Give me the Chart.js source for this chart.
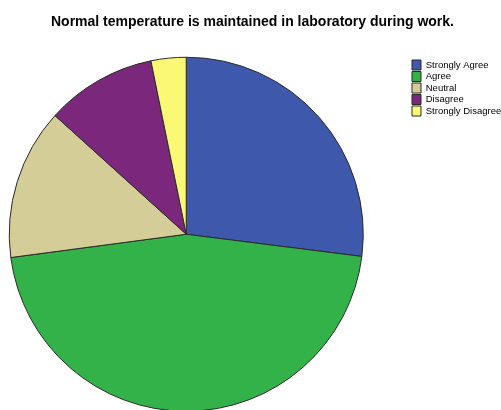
<!DOCTYPE html>
<html>
<head>
<meta charset="utf-8">
<script src="https://cdn.jsdelivr.net/npm/chart.js@4"></script>
<style>
  html, body { margin: 0; padding: 0; background: #fff; overflow: hidden; }
  #wrap { position: relative; width: 501px; height: 410px; overflow: hidden; }
  #title {
    position: absolute; left: 2px; top: 13px; width: 501px;
    text-align: center; font: bold 14px "Liberation Sans", Arial, sans-serif;
    line-height: 16px; color: #000; z-index: 1;
  }
  /* canvas starts a little left of the page so the pie sits where the original does */
  canvas { position: absolute; left: -38px; top: 0; }
</style>
</head>
<body>
<div id="wrap">
  <div id="title">Normal temperature is maintained in laboratory during work.</div>
  <canvas id="chart" width="539" height="410"></canvas>
</div>
<script>
const categories = ['Strongly Agree', 'Agree', 'Neutral', 'Disagree', 'Strongly Disagree'];
// percent of responses
const percents = [27.0, 45.9, 13.8, 10.1, 3.2];
const colors = ['#3e58ac', '#33b24a', '#d4cd98', '#7b277b', '#fbf875'];

const chartData = {
  labels: categories,
  datasets: [
    {
      data: percents,
      backgroundColor: colors,
      borderColor: '#2a2a2a',
      borderWidth: 1,
      radius: 177,
      clip: false,
    },
  ],
};

const chartOptions = {
  responsive: false,
  animation: false,
  layout: {
    padding: { left: 0, right: -10.25, top: 58.5, bottom: -1.5 },
  },
  plugins: {
    title: { display: false },
    tooltip: { enabled: false },
    legend: {
      position: 'right',
      align: 'start',
      labels: {
        boxWidth: 9,
        boxHeight: 10,
        padding: 1.5,
        color: '#000',
        font: { family: '"Liberation Sans", Arial, sans-serif', size: 9.5 },
      },
    },
  },
};

new Chart(document.getElementById('chart'), {
  type: 'pie',
  data: chartData,
  options: chartOptions,
});
</script>
</body>
</html>
